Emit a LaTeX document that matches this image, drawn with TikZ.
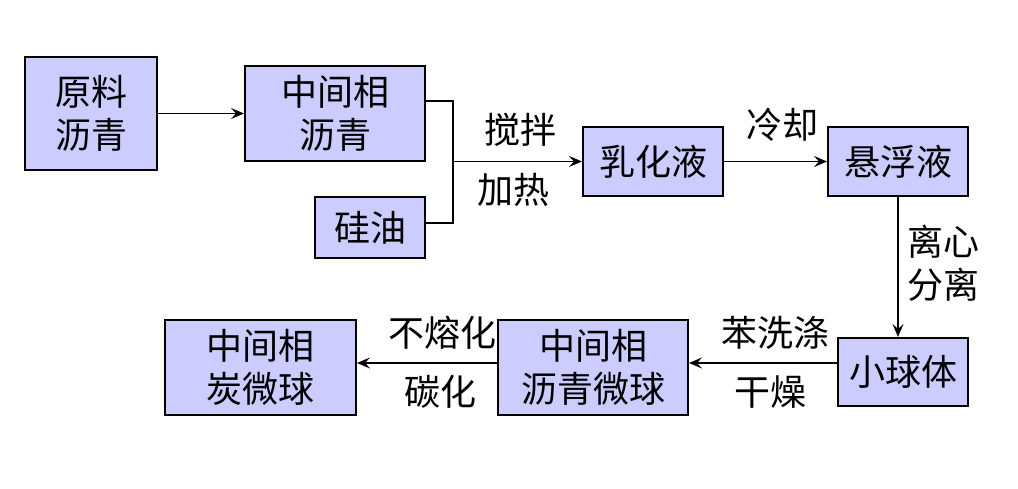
\documentclass[tikz,border=0pt]{standalone}
\usepackage{fontspec}
\setmainfont{Noto Sans CJK SC}
\usetikzlibrary{arrows.meta}
\definecolor{boxfill}{RGB}{204,204,255}
\begin{document}
\begin{tikzpicture}[x=1pt,y=-1pt,
  box/.style={draw=black, line width=2pt, fill=boxfill, align=center, inner sep=0pt,
    font=\fontsize{36}{43}\selectfont},
  lbl/.style={align=center, inner sep=0pt, font=\fontsize{36}{43}\selectfont},
  conn/.style={line width=1.3pt, -{Stealth[length=13pt,width=11pt,inset=5pt]}},
  plain/.style={line width=1.6pt}]
\useasboundingbox (0,0) rectangle (1018,489);
\node[box, minimum width=132pt, minimum height=113pt] (raw) at (91,113.5) {原料\\沥青};
\node[box, minimum width=180pt, minimum height=95pt] (mid) at (335,113.5) {中间相\\沥青};
\node[box, minimum width=110pt, minimum height=61pt] (oil) at (370,227.5) {硅油};
\node[box, minimum width=140pt, minimum height=69pt] (emul) at (653,161.5) {乳化液};
\node[box, minimum width=140pt, minimum height=69pt] (susp) at (898,161.5) {悬浮液};
\node[box, minimum width=130pt, minimum height=68pt] (ball) at (903,372) {小球体};
\node[box, minimum width=190pt, minimum height=95pt] (pmb) at (593,367.5) {中间相\\沥青微球};
\node[box, minimum width=191pt, minimum height=95pt] (cmb) at (260.5,367.5) {中间相\\炭微球};
\coordinate (j) at (453,161.5);
\draw[conn] (raw) -- (mid);
\draw[plain] ([yshift=12.5pt]mid.east) -| (j) |- ([yshift=4.5pt]oil.east);
\draw[conn] (j) -- (emul.west);
\draw[conn] (emul) -- (susp);
\draw[conn] (susp) -- (susp |- ball.north);
\draw[conn] ([yshift=9pt]ball.west) -- ([yshift=4.5pt]pmb.east);
\draw[conn] ([yshift=4.5pt]pmb.west) -- ([yshift=4.5pt]cmb.east);
\node[lbl] (l1) at (520,130) {搅拌};
\node[lbl] (l2) at (513,190) {加热};
\node[lbl] (l3) at (782,125) {冷却};
\node[lbl] (l4) at (943,263) {离心\\分离};
\node[lbl] (l5) at (775,333) {苯洗涤};
\node[lbl] (l6) at (770,392) {干燥};
\node[lbl] (l7) at (442,333) {不熔化};
\node[lbl] (l8) at (440,392) {碳化};
\end{tikzpicture}
\end{document}
